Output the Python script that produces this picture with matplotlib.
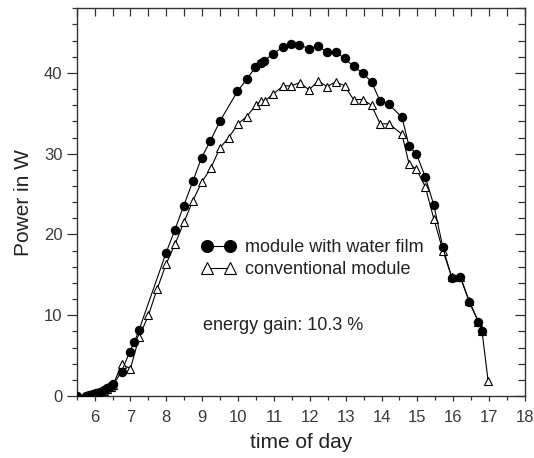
import matplotlib
matplotlib.use("Agg")
import matplotlib.pyplot as plt
from matplotlib.lines import Line2D
from matplotlib.ticker import MultipleLocator

# --- data ---
t_water = [5.5, 5.75, 5.85, 5.95, 6.05, 6.15, 6.25, 6.35, 6.45, 6.52,
           6.75, 6.98, 7.11, 7.24, 7.99, 8.24, 8.48, 8.74, 8.98, 9.23,
           9.49, 9.98, 10.24, 10.48, 10.64, 10.73, 10.98, 11.26, 11.48, 11.7,
           11.98, 12.23, 12.48, 12.72, 12.97, 13.22, 13.47, 13.72, 13.96, 14.21,
           14.57, 14.77, 14.97, 15.22, 15.46, 15.71, 15.96, 16.2, 16.45, 16.7,
           16.8]
p_water = [0.0, 0.05, 0.1, 0.2, 0.35, 0.5, 0.7, 0.95, 1.2, 1.45,
           3.0, 5.5, 6.7, 8.2, 17.7, 20.6, 23.5, 26.6, 29.5, 31.6,
           34.0, 37.7, 39.2, 40.7, 41.2, 41.5, 42.4, 43.2, 43.6, 43.5,
           43.0, 43.3, 42.6, 42.6, 41.8, 40.8, 40.0, 38.9, 36.5, 36.1,
           34.5, 30.9, 30.0, 27.1, 23.6, 18.4, 14.6, 14.7, 11.6, 9.2,
           8.1]

t_conv = [5.5, 5.75, 5.85, 5.95, 6.05, 6.15, 6.25, 6.35, 6.45, 6.52,
          6.75, 7.0, 7.24, 7.5, 7.74, 7.99, 8.24, 8.49, 8.74, 8.99,
          9.24, 9.49, 9.74, 10.0, 10.24, 10.49, 10.63, 10.74, 10.98, 11.26,
          11.48, 11.72, 11.98, 12.23, 12.48, 12.72, 12.97, 13.22, 13.47, 13.72,
          13.96, 14.21, 14.57, 14.77, 14.97, 15.22, 15.46, 15.71, 15.96, 16.2,
          16.45, 16.7, 16.8, 16.97]
p_conv = [0.0, 0.05, 0.1, 0.2, 0.3, 0.45, 0.65, 0.9, 1.15, 1.4,
          3.9, 3.4, 7.3, 10.0, 13.2, 16.3, 18.8, 21.5, 24.2, 26.5,
          28.2, 30.7, 32.0, 33.7, 34.6, 36.0, 36.5, 36.5, 37.4, 38.4,
          38.4, 38.8, 37.9, 39.0, 38.3, 38.9, 38.4, 36.7, 36.7, 36.0,
          33.7, 33.7, 32.4, 28.7, 28.1, 25.9, 21.9, 18.0, 14.7, 14.7,
          11.7, 9.2, 8.1, 1.9]

x_ticks = list(range(6, 19))
y_ticks = [0, 10, 20, 30, 40]
label_water = "module with water film"
label_conv = "conventional module"
note = "energy gain: 10.3 %"

plt.rcParams['font.family'] = ['Liberation Sans', 'DejaVu Sans']

fig = plt.figure(figsize=(5.34, 4.58), dpi=100)
ax = fig.add_axes([76.7 / 534, 1 - 396 / 458, (525 - 76.7) / 534, (396 - 8.3) / 458])

ax.plot(t_conv, p_conv, color='black', lw=0.8, marker='^', ms=5.2,
        mfc='white', mec='black', mew=0.8, zorder=2)
ax.plot(t_water, p_water, color='black', lw=0.8, marker='o', ms=5.8,
        mfc='black', mec='black', zorder=3)

ax.set_xlim(5.5, 18)
ax.set_ylim(0, 48)

ax.xaxis.set_major_locator(MultipleLocator(1))
ax.xaxis.set_minor_locator(MultipleLocator(0.5))
ax.yaxis.set_major_locator(MultipleLocator(10))
ax.yaxis.set_minor_locator(MultipleLocator(2))
ax.set_xticks(x_ticks)
ax.set_yticks(y_ticks)

spine_c = '#333333'
lab_c = '#3a3a3a'
for s in ax.spines.values():
    s.set_color(spine_c)
    s.set_linewidth(1.0)

ax.tick_params(axis='y', which='major', direction='out', length=7.2, width=0.9,
               color=spine_c, labelsize=12, pad=3, labelcolor=lab_c)
ax.tick_params(axis='y', which='minor', direction='out', length=3.6, width=0.9,
               color=spine_c)
ax.tick_params(axis='x', which='major', direction='out', length=3.8, width=0.9,
               color=spine_c, labelsize=12, pad=6, labelcolor=lab_c)
ax.tick_params(axis='x', which='minor', direction='out', length=3.0, width=0.9,
               color=spine_c)

# top and right ticks pointing inward
secx = ax.secondary_xaxis('top')
secx.xaxis.set_major_locator(MultipleLocator(0.5))
secx.tick_params(axis='x', which='major', direction='in', length=6, width=0.9,
                 color=spine_c, labeltop=False)
secx.spines['top'].set_visible(False)
secy = ax.secondary_yaxis('right')
secy.yaxis.set_major_locator(MultipleLocator(10))
secy.yaxis.set_minor_locator(MultipleLocator(2))
secy.tick_params(axis='y', which='major', direction='in', length=7, width=0.9,
                 color=spine_c, labelright=False)
secy.tick_params(axis='y', which='minor', direction='in', length=5, width=0.9,
                 color=spine_c)
secy.spines['right'].set_visible(False)

ax.set_xlabel("time of day", fontsize=15, labelpad=6, color='#222222')
ax.set_ylabel("Power in W", fontsize=15, labelpad=8, color='#222222')

h1 = Line2D([], [], color='black', lw=0.8, marker='o', ms=8.4, mfc='black', mec='black')
h2 = Line2D([], [], color='black', lw=0.8, marker='^', ms=8.0, mfc='white', mec='black', mew=0.8)
leg = ax.legend([h1, h2], [label_water, label_conv], loc='upper left',
                bbox_to_anchor=(0.278, 0.405), frameon=False, numpoints=2,
                handlelength=1.88, handletextpad=0.53, labelspacing=0.3,
                fontsize=13, borderaxespad=0, borderpad=0)
for txt in leg.get_texts():
    txt.set_color('#222222')

ax.text(0.282, 0.183, note, transform=ax.transAxes, fontsize=13,
        color='#222222', va='center', ha='left')

fig.savefig("out.png", dpi=100)
